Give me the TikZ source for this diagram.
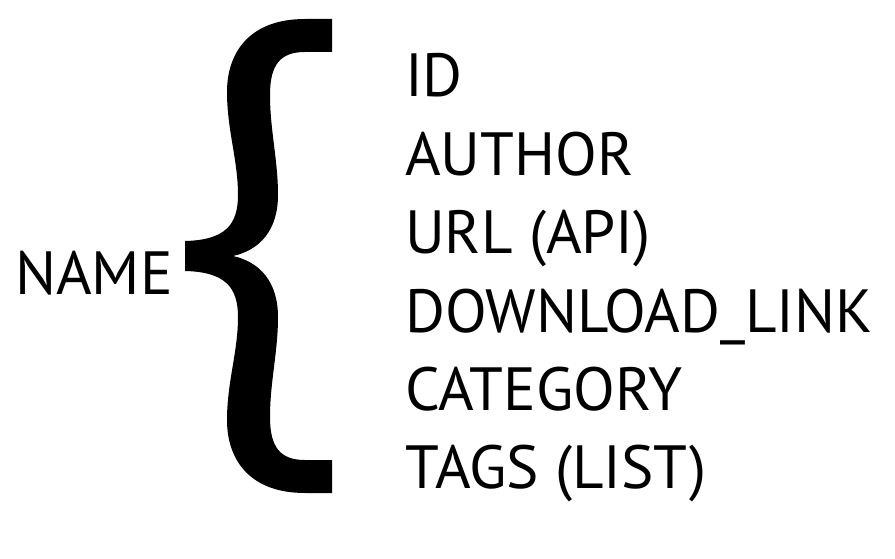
\documentclass[tikz,border=0pt]{standalone}
\usepackage{fontspec}
\setmainfont{PT Sans}
\begin{document}
\begin{tikzpicture}[x=1pt,y=-1pt,
  lbl/.style={anchor=base west,inner sep=0pt,font=\fontsize{61}{61}\selectfont}]
\useasboundingbox (0,0) rectangle (895,559);
% brace
\fill[black] (332,19) -- (332,52) -- (305,52)
  .. controls (280,52) and (270,65) .. (270,95)
  .. controls (270,130) and (278,160) .. (278,195)
  .. controls (278,230) and (260,250) .. (233,256)
  .. controls (260,262) and (278,282) .. (278,317)
  .. controls (278,352) and (270,382) .. (270,417)
  .. controls (270,447) and (280,460) .. (305,460)
  -- (332,460) -- (332,493) -- (305,493)
  .. controls (250,493) and (227,460) .. (227,420)
  .. controls (227,382) and (238,352) .. (238,317)
  .. controls (238,287) and (225,272) .. (185,271)
  -- (185,241)
  .. controls (225,240) and (238,225) .. (238,195)
  .. controls (238,160) and (227,130) .. (227,92)
  .. controls (227,52) and (250,19) .. (305,19) -- cycle;
\node[lbl] (name) at (15,294) {NAME};
\node[lbl] (id) at (405,97) {ID};
\node[lbl] (author) at (405,176) {AUTHOR};
\node[lbl] (url) at (405,254) {URL (API)};
\node[lbl] (dl) at (405,332) {DOWNLOAD\_LINK};
\node[lbl] (cat) at (405,410) {CATEGORY};
\node[lbl] (tags) at (405,488) {TAGS (LIST)};
\end{tikzpicture}
\end{document}
